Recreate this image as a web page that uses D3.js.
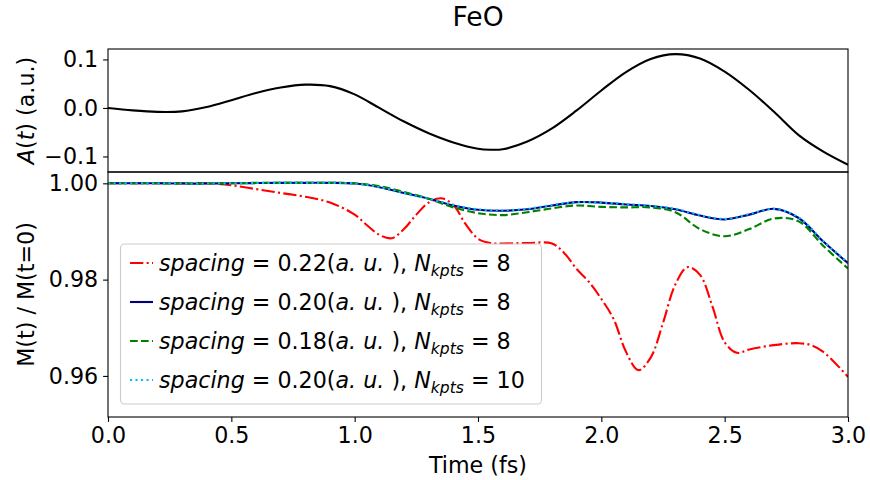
<!DOCTYPE html>
<html>
<head>
<meta charset="utf-8">
<script src="https://cdn.jsdelivr.net/npm/d3@7"></script>
<style>
  body { margin: 0; background: #fff; }
  svg { font-family: "DejaVu Sans", sans-serif; }
</style>
</head>
<body>
<div id="chart"></div>
<script>
// A(t) vector potential
const tA = [0, 0.1, 0.2, 0.3, 0.4, 0.5, 0.6, 0.7, 0.8, 0.9, 1.0, 1.1, 1.2, 1.3, 1.4, 1.5, 1.55, 1.6, 1.7, 1.8, 1.9, 2.0, 2.1, 2.2, 2.3, 2.4, 2.5, 2.6, 2.7, 2.8, 2.9, 3.0];
const valA = [0, -0.005, -0.008, -0.007, 0.002, 0.016, 0.031, 0.042, 0.048, 0.045, 0.028, 0.0, -0.028, -0.052, -0.071, -0.084, -0.086, -0.085, -0.069, -0.042, -0.005, 0.036, 0.074, 0.101, 0.111, 0.102, 0.075, 0.037, -0.008, -0.056, -0.090, -0.117];

// magnetization ratio, common time grid
const tM = [0, 0.1, 0.2, 0.3, 0.4, 0.5, 0.6, 0.7, 0.8, 0.9, 1.0, 1.1, 1.2, 1.3, 1.4, 1.5, 1.6, 1.7, 1.8, 1.9, 2.0, 2.1, 2.2, 2.3, 2.4, 2.5, 2.6, 2.7, 2.8, 2.9, 3.0];
const sp020k8 = [1.0, 1.0, 1.0, 0.99995, 0.99995, 1.0, 1.00005, 1.0001, 1.0001, 1.0001, 0.99995, 0.9992, 0.998, 0.9968, 0.9954, 0.9945, 0.9943, 0.9946, 0.9954, 0.9961, 0.9960, 0.9956, 0.9953, 0.9946, 0.9933, 0.9925, 0.9935, 0.9947, 0.9928, 0.9879, 0.9834];
const sp018k8 = [1.0, 1.0, 1.0, 0.99995, 0.99995, 1.0, 1.0001, 1.0001, 1.0001, 1.0001, 1.0, 0.9994, 0.9982, 0.9968, 0.9950, 0.9938, 0.9934, 0.9940, 0.9948, 0.9954, 0.9951, 0.9950, 0.9950, 0.9940, 0.9905, 0.9890, 0.9905, 0.9927, 0.9921, 0.9870, 0.9823];
const sp020k10 = [1.0, 1.0, 1.0, 0.99995, 0.99995, 1.0, 1.00005, 1.0001, 1.0001, 1.0001, 0.99995, 0.9992, 0.998, 0.9968, 0.9955, 0.9946, 0.9944, 0.9947, 0.9955, 0.9961, 0.9960, 0.9957, 0.9953, 0.9947, 0.9934, 0.9926, 0.9936, 0.9947, 0.9929, 0.9880, 0.9835];

// red run has its own finer grid
const tRed = [0, 0.1, 0.2, 0.3, 0.4, 0.5, 0.6, 0.7, 0.8, 0.9, 1.0, 1.05, 1.1, 1.15, 1.2, 1.25, 1.3, 1.35, 1.4, 1.45, 1.5, 1.55, 1.6, 1.7, 1.8, 1.85, 1.9, 1.95, 2.0, 2.05, 2.1, 2.15, 2.2, 2.25, 2.3, 2.35, 2.4, 2.45, 2.5, 2.55, 2.6, 2.7, 2.8, 2.85, 2.9, 3.0];
const sp022k8 = [1.0, 1.0, 1.0, 1.0, 1.0, 0.9996, 0.9988, 0.9980, 0.9972, 0.9960, 0.9935, 0.9913, 0.9893, 0.9886, 0.9905, 0.9935, 0.9960, 0.9969, 0.9955, 0.9915, 0.9885, 0.9876, 0.9875, 0.9876, 0.9875, 0.9855, 0.9822, 0.9795, 0.9760, 0.9718, 0.9650, 0.9612, 0.9638, 0.9710, 0.9790, 0.9826, 0.9810, 0.9745, 0.9670, 0.9648, 0.9655, 0.9664, 0.9668, 0.9664, 0.9650, 0.9598];

const xTicks = [0, 0.5, 1.0, 1.5, 2.0, 2.5, 3.0];
const aTicks = [-0.1, 0.0, 0.1];
const mTicks = [0.96, 0.98, 1.00];

const series = [
  { t: tRed, v: sp022k8, color: "#ff0000", dash: "13.3,3.3,2.1,3.3", spacing: "0.22", k: "8" },
  { t: tM, v: sp020k8, color: "#000080", dash: null, spacing: "0.20", k: "8" },
  { t: tM, v: sp018k8, color: "#008000", dash: "7.7,3.3", spacing: "0.18", k: "8" },
  { t: tM, v: sp020k10, color: "#00bfff", dash: "2.1,3.4", spacing: "0.20", k: "10" }
];

const width = 870, height = 480;
const left = 108, right = 848;
const topA = 49, botA = 172, botM = 417;
const fs = 22.2;

const svg = d3.select("#chart").append("svg")
  .attr("width", width).attr("height", height);

const x = d3.scaleLinear().domain([0, 3]).range([left, right]);
const yA = d3.scaleLinear().domain([-0.132, 0.1215]).range([botA, topA]);
const yM = d3.scaleLinear().domain([0.95147, 1.00235]).range([botM, botA]);

const minus = d => d3.format(".1f")(d).replace("-", "\u2212");

// clip paths
const defs = svg.append("defs");
defs.append("clipPath").attr("id", "clipA").append("rect")
  .attr("x", left).attr("y", topA).attr("width", right - left).attr("height", botA - topA);
defs.append("clipPath").attr("id", "clipM").append("rect")
  .attr("x", left).attr("y", botA).attr("width", right - left).attr("height", botM - botA);

// top panel
const lineA = d3.line().x((d, i) => x(tA[i])).y(d => yA(d)).curve(d3.curveCatmullRom.alpha(0.5));
svg.append("path").attr("d", lineA(valA))
  .attr("clip-path", "url(#clipA)")
  .attr("fill", "none").attr("stroke", "#000").attr("stroke-width", 2.1);

// bottom panel lines
series.forEach(s => {
  const line = d3.line().x((d, i) => x(s.t[i])).y(d => yM(d)).curve(d3.curveCatmullRom.alpha(0.5));
  svg.append("path").attr("d", line(s.v))
    .attr("clip-path", "url(#clipM)")
    .attr("fill", "none").attr("stroke", s.color).attr("stroke-width", 2.1)
    .attr("stroke-dasharray", s.dash);
});

// axes
const styleAxis = g => {
  g.selectAll(".domain").remove();
  g.selectAll(".tick line").attr("stroke", "#000").attr("stroke-width", 1.1);
  g.selectAll(".tick text").attr("font-size", fs).attr("fill", "#000")
    .attr("font-family", "DejaVu Sans");
};

svg.append("g").attr("transform", `translate(${left},0)`)
  .call(d3.axisLeft(yA).tickValues(aTicks).tickFormat(minus).tickSize(4.9).tickPadding(4.9))
  .call(styleAxis);
svg.append("g").attr("transform", `translate(${left},0)`)
  .call(d3.axisLeft(yM).tickValues(mTicks).tickFormat(d3.format(".2f")).tickSize(4.9).tickPadding(4.9))
  .call(styleAxis);
svg.append("g").attr("transform", `translate(0,${botM})`)
  .call(d3.axisBottom(x).tickValues(xTicks).tickFormat(d3.format(".1f")).tickSize(4.9).tickPadding(4.9))
  .call(styleAxis);

// frames
[[topA, botA], [botA, botM]].forEach(([a, b]) => {
  svg.append("rect").attr("x", left).attr("y", a)
    .attr("width", right - left).attr("height", b - a)
    .attr("fill", "none").attr("stroke", "#000").attr("stroke-width", 1.1);
});

// title and labels
svg.append("text").attr("x", (left + right) / 2).attr("y", 26)
  .attr("text-anchor", "middle").attr("font-size", 26.6).text("FeO");

svg.append("text").attr("x", (left + right) / 2).attr("y", 473)
  .attr("text-anchor", "middle").attr("font-size", fs).text("Time (fs)");

const labA = svg.append("text")
  .attr("transform", `translate(34,${(topA + botA) / 2}) rotate(-90)`)
  .attr("text-anchor", "middle").attr("font-size", fs);
labA.append("tspan").attr("font-style", "italic").text("A");
labA.append("tspan").text("(");
labA.append("tspan").attr("font-style", "italic").text("t");
labA.append("tspan").text(") (a.u.)");

svg.append("text")
  .attr("transform", `translate(34,${(botA + botM) / 2}) rotate(-90)`)
  .attr("text-anchor", "middle").attr("font-size", fs).text("M(t) / M(t=0)");

// legend
const lg = svg.append("g");
lg.append("rect").attr("x", 120.5).attr("y", 244).attr("width", 421).attr("height", 160)
  .attr("rx", 4).attr("fill", "#fff").attr("fill-opacity", 0.8)
  .attr("stroke", "#cccccc").attr("stroke-width", 1.1);

series.forEach((s, i) => {
  const cy = 263 + i * 39;
  lg.append("line").attr("x1", 130).attr("x2", 153).attr("y1", cy).attr("y2", cy)
    .attr("stroke", s.color).attr("stroke-width", 2.1).attr("stroke-dasharray", s.dash);
  const t = lg.append("text").attr("x", 159).attr("y", cy + 8).attr("font-size", fs);
  t.append("tspan").attr("font-style", "italic").text("spacing");
  t.append("tspan").text(` = ${s.spacing}(`);
  t.append("tspan").attr("font-style", "italic").text("a. u.");
  t.append("tspan").text(" ), ");
  t.append("tspan").attr("font-style", "italic").text("N");
  t.append("tspan").attr("font-style", "italic").attr("font-size", fs * 0.7).attr("dy", 5).text("kpts");
  t.append("tspan").attr("dy", -5).text(` = ${s.k}`);
});
</script>
</body>
</html>
